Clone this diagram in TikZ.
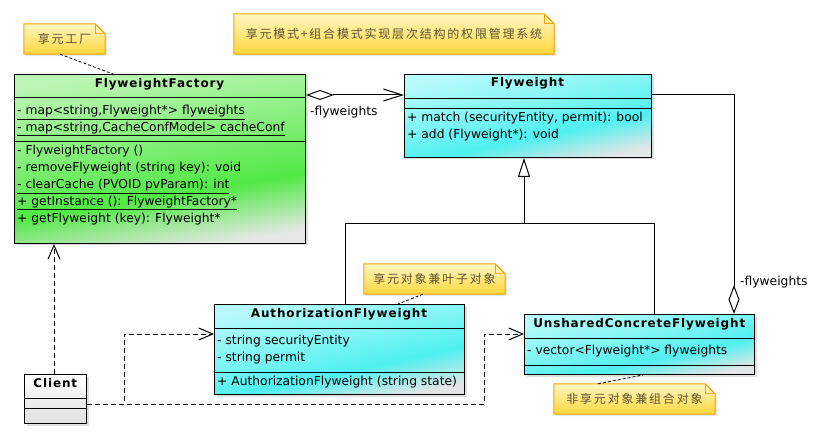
\documentclass[tikz,border=0pt]{standalone}
\usepackage{fontspec}
\setmainfont{DejaVu Sans}
\newfontfamily\cjk{Noto Sans CJK SC}[LetterSpace=15]
\usetikzlibrary{arrows.meta,shadows,backgrounds}

\definecolor{greenTop}{HTML}{BCF6B4}
\definecolor{greenMid}{HTML}{52E846}
\definecolor{greenBot}{HTML}{E6E8E6}
\definecolor{cyanTop}{HTML}{B8FAFA}
\definecolor{cyanMid}{HTML}{4FF0F0}
\definecolor{cyanBot}{HTML}{E2E6E6}
\definecolor{noteTop}{HTML}{FFF7C4}
\definecolor{noteBot}{HTML}{FFD63C}
\definecolor{noteLine}{HTML}{F2A500}
\definecolor{noteText}{HTML}{5A5430}

\pgfdeclareverticalshading{greenglow}{100bp}{color(0bp)=(greenBot); color(25bp)=(greenBot); color(40bp)=(greenMid); color(56bp)=(greenMid!50!greenTop); color(75bp)=(greenTop); color(100bp)=(greenTop)}
\pgfdeclareverticalshading{cyanglow}{100bp}{color(0bp)=(cyanBot); color(25bp)=(cyanBot); color(40bp)=(cyanMid); color(56bp)=(cyanMid!50!cyanTop); color(75bp)=(cyanTop); color(100bp)=(cyanTop)}

\tikzset{
  umlbox/.style={draw=black, line width=1pt, anchor=north west, inner sep=0pt,
    drop shadow={shadow xshift=2pt, shadow yshift=-2pt, opacity=0.25}},
  greenbox/.style={umlbox, shading=greenglow, shading angle=9},
  cyanbox/.style={umlbox, shading=cyanglow, shading angle=12},
  whitebox/.style={umlbox, top color=white, bottom color=black!12},
  divider/.style={line width=1pt},
  classname/.style={inner sep=0pt, text height=9pt, text depth=3pt,
    font=\bfseries\fontsize{12}{14}\selectfont\addfontfeatures{LetterSpace=7}},
  member/.style={anchor=west, inner sep=0pt, text height=9pt, text depth=3pt,
    font=\fontsize{12.3}{14}\selectfont},
  notetext/.style={inner sep=0pt, text=noteText, font=\cjk\fontsize{12}{14}\selectfont},
  notebody/.style={top color=noteTop, bottom color=noteBot, draw=noteLine, line width=1pt,
    drop shadow={shadow xshift=2pt, shadow yshift=-2pt, opacity=0.2}},
  notelink/.style={dashed, dash pattern=on 3pt off 2pt, line width=0.8pt},
  dep/.style={dashed, dash pattern=on 5pt off 3pt, line width=1pt, -{Straight Barb[length=14pt,width=12pt]}},
  aggr/.style={line width=1pt},
}

\begin{document}
\begin{tikzpicture}[x=1pt,y=-1pt]
\useasboundingbox (0,0) rectangle (832,438);
% FlyweightFactory
\node[greenbox, minimum width=291pt, minimum height=169pt] (ff) at (14,74) {};
\draw[divider] (14,98) -- (305,98);
\draw[divider] (14,142) -- (305,142);
\node[classname] (ffname) at (159.5,84.5) {FlyweightFactory};
\node[member] (ffa1) at (17,112) {\underline{- map<string,Flyweight*> flyweights}};
\node[member] (ffa2) at (17,128.7) {\underline{- map<string,CacheConfModel> cacheConf}};
\node[member] (ffm1) at (17,152) {- FlyweightFactory ()};
\node[member] (ffm2) at (17,169) {- removeFlyweight (string key): void};
\node[member] (ffm3) at (17,186) {\underline{- clearCache (PVOID pvParam): int}};
\node[member] (ffm4) at (17,202.7) {\underline{+ getInstance (): FlyweightFactory*}};
\node[member] (ffm5) at (17,219.5) {+ getFlyweight (key): Flyweight*};
% Flyweight
\node[cyanbox, minimum width=247pt, minimum height=83pt] (fw) at (404,74) {};
\draw[divider] (404,98.5) -- (651,98.5);
\draw[divider] (404,108.3) -- (651,108.3);
\node[classname] (fwname) at (527.5,84) {Flyweight};
\node[member] (fwm1) at (407,118.7) {+ match (securityEntity, permit): bool};
\node[member] (fwm2) at (407,135.3) {+ add (Flyweight*): void};
% AuthorizationFlyweight
\node[cyanbox, minimum width=250pt, minimum height=90pt] (af) at (214,304) {};
\draw[divider] (214,328.7) -- (464,328.7);
\draw[divider] (214,372.3) -- (464,372.3);
\node[classname] (afname) at (339,314) {AuthorizationFlyweight};
\node[member] (afa1) at (217,341) {- string securityEntity};
\node[member] (afa2) at (217,358.7) {- string permit};
\node[member] (afm1) at (217,382.7) {+ AuthorizationFlyweight (string state)};
% UnsharedConcreteFlyweight
\node[cyanbox, minimum width=230pt, minimum height=60pt] (uc) at (524,314) {};
\draw[divider] (524,338.7) -- (754,338.7);
\draw[divider] (524,365.7) -- (754,365.7);
\node[classname] (ucname) at (639.3,324) {UnsharedConcreteFlyweight};
\node[member] (uca1) at (527,351) {- vector<Flyweight*> flyweights};
% Client
\node[whitebox, minimum width=62pt, minimum height=49pt] (cl) at (24,374) {};
\draw[divider] (24,398.3) -- (86,398.3);
\draw[divider] (24,408.3) -- (86,408.3);
\node[classname] (clname) at (55.3,384) {Client};
% notes
\node[notetext, minimum width=81pt, minimum height=30pt] (nfactory) at (64.5,39) {享元工厂};
\node[notetext, minimum width=320pt, minimum height=40pt] (ntitle) at (394,34) {享元模式+组合模式实现层次结构的权限管理系统};
\node[notetext, minimum width=141pt, minimum height=30pt] (nleaf) at (434.5,279) {享元对象兼叶子对象};
\node[notetext, minimum width=161pt, minimum height=30pt] (ncomp) at (634.5,399) {非享元对象兼组合对象};
\begin{scope}[on background layer]
\foreach \n in {nfactory,ntitle,nleaf,ncomp} {
  \shade[notebody] (\n.north west) -- ([xshift=-10pt]\n.north east) -- ([yshift=-10pt]\n.north east)
    -- (\n.south east) -- (\n.south west) -- cycle;
  \draw[noteLine, line width=1pt] ([xshift=-10pt]\n.north east) -- ([xshift=-10pt,yshift=-10pt]\n.north east)
    -- ([yshift=-10pt]\n.north east);
}
\end{scope}
\draw[notelink] (nfactory.south -| 60,0) -- (ff.north -| 113,0);
\draw[notelink] (nleaf.south -| 423,0) -- (af.north -| 398,0);
\draw[notelink] (ncomp.north -| 598,0) -- (uc.south -| 643,0);
% associations
\draw[aggr, {Diamond[open,length=28pt,width=10pt]}-{Straight Barb[length=19pt,width=12pt]}] (ff.east |- 0,95) -- (fw.west |- 0,95);
\node[member] (lblff) at (310,113) {-flyweights};
\draw[aggr, {Diamond[open,length=29pt,width=11pt]}-] (uc.north -| 734,0) |- (fw.east |- 0,95);
\node[member] (lbluc) at (740,282) {-flyweights};
% generalization
\draw[line width=1pt] (af.north -| 345,0) -- (345,224) -- (654,224) -- (uc.north -| 654,0);
\draw[line width=1pt, -{Triangle[open,length=19pt,width=12pt]}] (524,224) -- (fw.south -| 524,0);
% dependencies
\draw[dep] (cl.north -| 54,0) -- (ff.south -| 54,0);
\draw[dep] (cl.east |- 0,404) -- (124,404) |- (af.west |- 0,334);
\draw[dep] (cl.east |- 0,404) -- (484,404) |- (uc.west |- 0,334);
\end{tikzpicture}
\end{document}
